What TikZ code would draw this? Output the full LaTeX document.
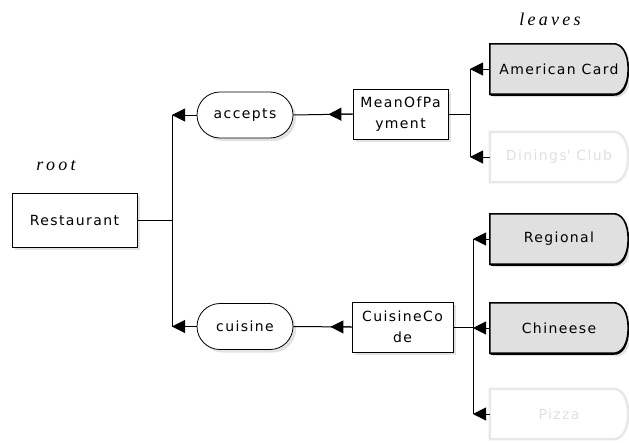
\documentclass[tikz,border=0pt]{standalone}
\usepackage{fontspec}
\usetikzlibrary{arrows.meta,shapes.misc,shadows,backgrounds,calc}
\newfontfamily\boxfont[LetterSpace=10]{DejaVu Sans}
\newfontfamily\notefont[LetterSpace=18]{Liberation Serif}
\definecolor{leafgray}{HTML}{E0E0E0}
\definecolor{fadeline}{HTML}{E8E8E8}
\definecolor{fadetext}{HTML}{E0E0E0}
\definecolor{shadowgray}{HTML}{E2E2E2}

% outline of a leaf value: square left end, bulging right end
\newcommand\leafoutline[2]{%
  \path[#2] (#1.north west) -- ([xshift=-16pt]#1.north east)
    .. controls ([xshift=-6pt,yshift=1pt]#1.north east) and ([yshift=-10pt]#1.north east) .. (#1.east)
    .. controls ([yshift=10pt]#1.south east) and ([xshift=-6pt,yshift=-1pt]#1.south east) .. ([xshift=-16pt]#1.south east)
    -- (#1.south west) -- cycle;}

\begin{document}
\begin{tikzpicture}[x=1pt,y=-1pt,
  every node/.style={font=\boxfont\fontsize{14}{21}\selectfont, inner sep=0pt, align=center},
  softshadow/.style={general shadow={fill=shadowgray, shadow xshift=3pt, shadow yshift=-3pt}},
  classbox/.style={draw, line width=1pt, fill=white, softshadow},
  rolebox/.style={rounded rectangle, draw, line width=0.8pt, fill=white,
    minimum width=96pt, minimum height=46pt, softshadow},
  leafnode/.style={minimum width=138pt, minimum height=50pt},
  leafon/.style={fill=leafgray, draw=black, line width=1.6pt, softshadow,
    general shadow={fill=black, shadow xshift=0.8pt, shadow yshift=-1.6pt}},
  leafoff/.style={fill=white, draw=fadeline, line width=2.5pt},
  wire/.style={line width=1pt},
  arr/.style={wire, -{Triangle[length=13pt,width=13pt]}},
  note/.style={font=\notefont\itshape\fontsize{18}{20}\selectfont}]

\useasboundingbox (0,0) rectangle (629,442);

% labels
\node[note] (rootlabel) at (56,166) {root};
\node[note] (leaflabel) at (550,19) {leaves};

% class and role nodes
\node[classbox, minimum width=125pt, minimum height=54pt] (rest) at (74.5,220) {Restaurant};
\node[rolebox] (accepts) at (245,115) {accepts};
\node[rolebox] (cuisine) at (245,326.5) {cuisine};
\node[classbox, minimum width=95pt, minimum height=50pt] (mop) at (400.5,114) {MeanOfPa\\yment};
\node[classbox, minimum width=101pt, minimum height=50pt] (cc) at (402.5,327) {CuisineCo\\de};

% leaf values
\node[leafnode] (amex) at (559,69) {American Card};
\node[leafnode, text=fadetext] (diners) at (559,157) {Dinings\textquotesingle{} Club};
\node[leafnode] (regional) at (559,239) {Regional};
\node[leafnode] (chinese) at (559,328) {Chineese};
\node[leafnode, text=fadetext] (pizza) at (559,414) {Pizza};

\begin{pgfonlayer}{background}
  \leafoutline{amex}{leafon}
  \leafoutline{diners}{leafoff}
  \leafoutline{regional}{leafon}
  \leafoutline{chinese}{leafon}
  \leafoutline{pizza}{leafoff}
\end{pgfonlayer}

% junction points of the branches
\coordinate (jroot) at (172,220);
\coordinate (jpay) at (470,114);
\coordinate (jcui) at (473,327);

% root branch
\draw[wire] (rest.east) -- (jroot);
\draw[wire] (accepts.west -| jroot) -- (cuisine.west -| jroot);
\draw[arr] (accepts.west) -- (accepts.west -| jroot);
\draw[arr] (cuisine.west) -- (cuisine.west -| jroot);

% role to class links, arrow head in the middle
\draw[wire] (mop.west) -- (accepts.east);
\draw[arr, shorten >=35pt] (mop.west) -- (accepts.east);
\draw[wire] (cc.west) -- (cuisine.east);
\draw[arr, shorten >=37pt] (cc.west) -- (cuisine.east);

% payment leaves
\draw[wire] (mop.east) -- (jpay);
\draw[wire] (amex.west -| jpay) -- (diners.west -| jpay);
\draw[arr] (amex.west) -- (amex.west -| jpay);
\draw[arr] (diners.west) -- (diners.west -| jpay);

% cuisine leaves
\draw[wire] (cc.east) -- (jcui);
\draw[wire] (regional.west -| jcui) -- (pizza.west -| jcui);
\draw[arr] (regional.west) -- (regional.west -| jcui);
\draw[arr] (chinese.west) -- (chinese.west -| jcui);
\draw[arr] (pizza.west) -- (pizza.west -| jcui);
\end{tikzpicture}
\end{document}
